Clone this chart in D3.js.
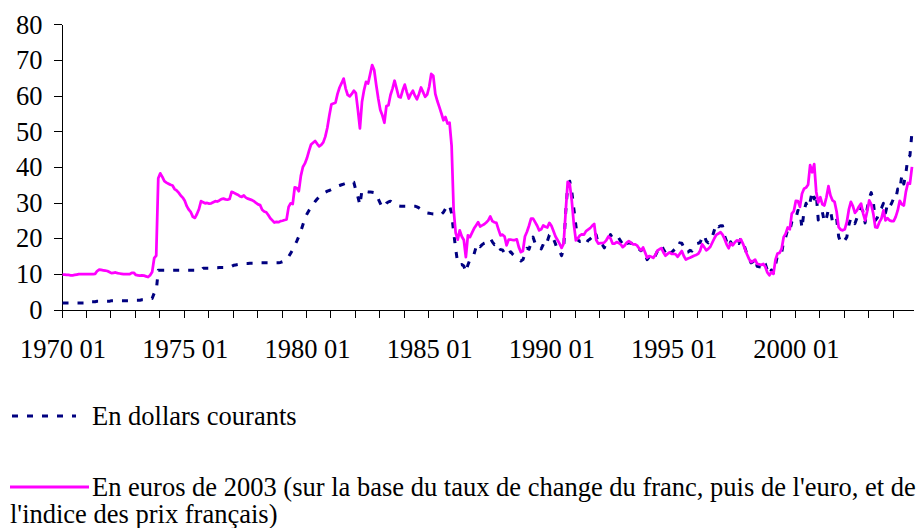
<!DOCTYPE html>
<html><head><meta charset="utf-8">
<script src="https://cdn.jsdelivr.net/npm/d3@7/dist/d3.min.js"></script>
<style>
body{margin:0;background:#fff}
svg{display:block}
</style>
</head><body>
<svg id="chart" width="919" height="528"></svg>
<script>
// ---- Data (monthly, Jan 1970 – Oct 2004) ----
const startYear = 1970;
const monthCount = 418;
const yTicks = [0, 10, 20, 30, 40, 50, 60, 70, 80];
const seriesNames = ["En dollars courants",
  "En euros de 2003 (sur la base du taux de change du franc, puis de l'euro, et de",
  "l'indice des prix français)"];

// En dollars courants
const usd70s = [
 1.8,1.8,1.8,1.8,1.8,1.8,1.8,1.8,1.8,1.8,1.8,1.8,
 1.8,2.18,2.18,2.18,2.18,2.29,2.29,2.29,2.29,2.29,2.29,2.29,
 2.48,2.48,2.48,2.48,2.48,2.48,2.48,2.48,2.48,2.48,2.48,2.48,
 2.59,2.59,2.59,2.74,2.74,2.9,2.9,3.07,3.07,4.6,5.12,11.0,
 11.0,11.0,11.0,11.0,11.0,11.0,11.0,11.0,11.0,11.0,11.0,11.0,
 11.0,11.0,11.0,11.0,11.0,11.0,11.0,11.0,11.0,11.6,11.6,11.6,
 11.6,11.6,11.7,11.7,11.7,11.8,11.8,11.8,11.9,11.9,11.9,12.1,
 12.4,12.5,12.6,12.7,12.7,12.8,12.9,12.9,13.0,13.0,13.0,13.1,
 13.1,13.1,13.1,13.1,13.1,13.1,13.1,13.1,13.1,13.1,13.1,13.2,
 13.4,13.6,14.0,14.8,15.8,16.8,18.0,19.2,20.5,22.0,23.8,25.5];
const usd80s = [
 26.8,27.8,28.6,29.4,30.3,31.0,31.6,32.1,32.5,32.9,33.2,33.4,
 33.7,34.0,34.3,34.6,34.8,35.0,35.2,35.4,35.5,35.7,35.8,35.7,
 33.5,31.6,29.3,33.5,33.3,33.1,33.0,33.0,32.9,32.8,32.6,31.0,
 29.8,28.6,29.0,29.8,30.2,30.4,30.0,29.6,29.3,29.1,29.0,29.0,
 29.0,29.0,29.0,29.0,29.0,29.0,28.8,28.5,28.1,27.7,27.3,27.1,
 27.0,26.9,26.8,26.8,26.7,26.6,26.7,27.3,28.3,29.4,29.2,27.0,
 21.7,17.0,13.0,12.5,12.6,12.2,10.5,12.5,14.0,14.5,15.5,17.5,
 18.5,17.6,18.2,18.6,18.8,19.1,19.9,19.0,18.2,18.7,18.0,16.8,
 16.7,15.8,15.0,15.8,16.2,15.5,15.0,14.6,14.2,13.6,14.0,15.5,
 17.2,16.9,18.6,20.3,18.6,17.9,17.9,17.0,18.3,19.8,19.2,20.9];
const usd90s = [
 21.2,19.8,18.4,16.6,16.4,15.1,17.2,27.2,34.9,36.0,33.1,28.3,
 23.6,19.5,19.1,19.2,19.2,18.4,19.4,19.8,20.3,21.8,20.9,18.4,
 18.1,18.2,17.3,18.9,19.8,21.0,20.1,19.6,20.1,20.1,19.2,18.3,
 17.5,18.5,18.7,18.6,18.5,17.7,16.8,16.9,16.5,17.0,15.5,14.0,
 14.8,14.2,13.9,15.1,16.3,17.2,18.0,16.9,15.9,16.4,17.1,16.0,
 16.6,17.2,17.0,18.7,18.6,17.4,16.0,16.1,16.6,16.4,17.2,18.5,
 18.6,18.8,20.2,20.9,19.2,18.7,19.6,20.5,22.3,24.0,23.2,23.5,
 23.5,20.7,19.1,17.5,19.0,17.6,18.5,18.6,18.5,19.9,19.1,17.3,
 15.5,14.5,13.1,13.4,14.4,12.1,12.0,11.9,13.4,12.8,11.0,9.8,
 11.1,10.3,12.5,15.3,15.3,15.8,19.1,20.3,22.5,22.0,24.6,25.5];
const usd00s = [
 25.5,27.8,27.5,22.8,27.6,29.8,28.6,30.2,33.1,31.0,32.5,25.1,
 25.7,27.4,24.5,25.6,28.1,27.8,24.5,25.7,25.5,20.5,18.8,18.7,
 19.4,20.3,23.7,25.7,25.4,24.1,25.7,26.6,28.4,27.5,24.3,28.3,
 31.2,32.8,30.3,25.0,25.8,27.6,28.4,29.8,27.1,29.6,28.8,29.8,
 31.2,30.9,33.8,33.4,37.6,35.2,38.2,42.7,43.2,49.8];

// En euros de 2003
const eur70s = [
 9.8,9.8,9.7,9.7,9.6,9.6,9.7,9.8,9.9,9.9,9.9,9.9,
 9.9,9.9,9.9,9.9,10.0,10.8,11.2,11.1,11.0,10.9,10.8,10.5,
 10.2,10.3,10.4,10.2,10.1,10.0,9.9,9.9,9.9,9.9,10.3,10.3,
 9.7,9.6,9.5,9.6,9.5,9.3,9.1,9.6,10.5,14.4,15.1,36.8,
 38.2,37.2,36.0,35.6,35.3,35.0,34.8,33.8,33.4,32.8,32.0,31.4,
 30.5,29.0,28.0,27.3,26.0,25.7,26.8,28.2,30.4,30.1,29.8,29.9,
 29.7,29.8,30.1,30.4,30.3,30.6,31.0,31.1,30.9,30.8,31.0,33.0,
 32.8,32.5,32.2,31.8,31.6,32.0,31.4,31.1,30.9,30.7,30.4,29.9,
 29.5,29.3,28.0,27.5,27.3,26.5,25.6,25.0,24.4,24.6,24.5,24.8,
 24.9,25.1,25.3,28.8,29.8,29.6,34.3,34.1,33.2,37.5,40.0,41.0];
const eur80s = [
 42.5,44.5,46.3,46.8,47.3,46.5,45.8,46.2,46.9,48.5,51.0,54.5,
 57.6,57.8,58.0,60.5,62.3,63.5,64.8,62.0,60.2,59.8,60.5,61.4,
 60.7,56.0,50.8,58.2,61.5,63.9,63.4,66.0,68.6,67.2,63.0,59.2,
 56.0,54.5,52.4,57.1,57.3,60.2,62.0,64.2,62.0,59.7,59.5,61.5,
 63.1,61.0,59.2,60.5,61.4,60.0,59.0,60.5,62.3,61.0,59.7,60.3,
 62.5,66.1,65.6,60.5,58.5,56.8,55.0,53.1,54.0,52.2,52.4,46.0,
 28.0,21.5,19.6,22.2,20.5,19.5,14.7,20.8,20.3,21.5,22.7,23.6,
 24.5,23.3,23.6,23.9,24.4,25.0,26.1,24.8,24.5,24.3,22.5,20.8,
 21.0,20.5,18.0,19.6,19.6,19.5,19.5,19.7,17.5,16.1,16.4,20.5,
 21.8,23.5,25.5,25.5,24.5,23.5,22.2,22.5,23.6,23.2,23.0,24.3];
const eur90s = [
 23.5,22.0,20.5,19.5,18.5,17.3,18.5,27.5,35.8,35.2,30.5,24.0,
 19.4,20.0,20.8,21.1,21.0,22.0,22.4,22.8,23.5,24.0,19.5,18.5,
 18.6,18.6,18.8,19.5,20.5,20.0,18.5,18.5,18.9,18.7,18.3,17.5,
 18.0,18.8,19.2,18.8,18.3,18.3,18.0,17.2,16.6,17.4,16.0,14.5,
 15.0,14.8,14.5,15.3,16.5,16.9,17.2,16.0,15.1,15.6,16.0,15.6,
 15.6,15.5,14.8,15.6,16.4,15.0,14.0,14.3,14.5,14.8,15.1,15.3,
 15.6,16.5,18.3,17.5,16.6,17.0,17.6,18.8,20.0,21.0,21.3,21.7,
 21.0,19.8,18.3,17.2,18.6,18.0,18.8,19.4,19.2,19.7,18.5,17.0,
 15.5,14.2,13.3,13.6,14.0,12.8,12.7,12.5,12.8,12.0,10.4,9.6,
 10.5,10.0,14.0,15.7,15.9,17.0,20.3,21.3,23.0,22.5,26.9,27.6];
const eur00s = [
 30.5,30.4,28.8,32.5,33.9,34.2,35.0,40.5,38.5,40.8,33.0,30.0,
 31.5,29.5,29.2,31.5,34.6,32.0,30.6,30.2,27.5,23.1,22.4,22.2,
 22.5,24.5,28.0,30.2,29.0,27.1,27.8,28.9,29.7,27.0,25.0,27.5,
 30.6,29.5,26.9,23.1,23.0,24.5,25.5,27.8,25.0,25.6,25.0,24.8,
 24.8,26.0,27.8,30.5,29.5,29.2,33.0,35.5,35.3,40.0];

// ---- Build ----
const usd = [].concat(usd70s, usd80s, usd90s, usd00s);
const eur = [].concat(eur70s, eur80s, eur90s, eur00s);
const months = d3.range(monthCount).map(i =>
  `${startYear + Math.floor(i / 12)} ${String(i % 12 + 1).padStart(2, "0")}`);

const FONT = "Liberation Serif";
const svg = d3.select("#chart");
const plotLeft = 61.5, plotRight = 913, plotTop = 24.4, plotBottom = 309.5;
const fontSize = 26.5;
const styleText = sel => sel.attr("font-family", FONT).attr("font-size", fontSize).attr("fill", "#000");

const x = d3.scaleLinear().domain([0, monthCount]).range([plotLeft, plotRight]);
const y = d3.scaleLinear().domain([0, 80]).range([plotBottom, plotTop]);
const px = i => x(i + 0.5);

// Y axis
const yAxis = d3.axisLeft(y).tickValues(yTicks).tickSize(8).tickSizeOuter(0).tickPadding(11);
const gy = svg.append("g").attr("transform", `translate(${plotLeft},0)`).call(yAxis);
gy.selectAll("path,line").attr("stroke", "#000").attr("stroke-width", 1).attr("shape-rendering", "crispEdges");
gy.selectAll("text").call(styleText).attr("dy", "0.33em");

// X axis
const xAxis = d3.axisBottom(x).tickValues(d3.range(0, monthCount, 12)).tickSize(8)
  .tickSizeOuter(0).tickFormat(i => (i % 60 === 0 ? months[i] : ""));
const gx = svg.append("g").attr("transform", `translate(0,${plotBottom})`).call(xAxis);
gx.selectAll("path,line").attr("stroke", "#000").attr("stroke-width", 1).attr("shape-rendering", "crispEdges");
gx.selectAll("text").call(styleText).attr("y", 48).attr("dy", 0)
  .attr("dx", x(0.5) - x(0));

// Lines
const line = d3.line().x((d, i) => px(i)).y(d => y(d));
svg.append("path").datum(usd).attr("d", line)
  .attr("fill", "none").attr("stroke", "#000080").attr("stroke-width", 3)
  .attr("stroke-dasharray", "6,9").attr("stroke-linejoin", "round");
svg.append("path").datum(eur).attr("d", line)
  .attr("fill", "none").attr("stroke", "#FF00FF").attr("stroke-width", 2.75)
  .attr("stroke-linejoin", "round");

// Legend
const lg = svg.append("g");
lg.append("line").attr("x1", 12).attr("x2", 76).attr("y1", 416).attr("y2", 416)
  .attr("stroke", "#000080").attr("stroke-width", 3).attr("stroke-dasharray", "6,9");
lg.append("text").call(styleText).attr("x", 92).attr("y", 425).text(seriesNames[0]);
lg.append("line").attr("x1", 10).attr("x2", 89).attr("y1", 487).attr("y2", 487)
  .attr("stroke", "#FF00FF").attr("stroke-width", 3);
lg.append("text").call(styleText).attr("x", 92).attr("y", 496).text(seriesNames[1]);
lg.append("text").call(styleText).attr("x", 10).attr("y", 523).text(seriesNames[2]);
</script>
</body></html>
